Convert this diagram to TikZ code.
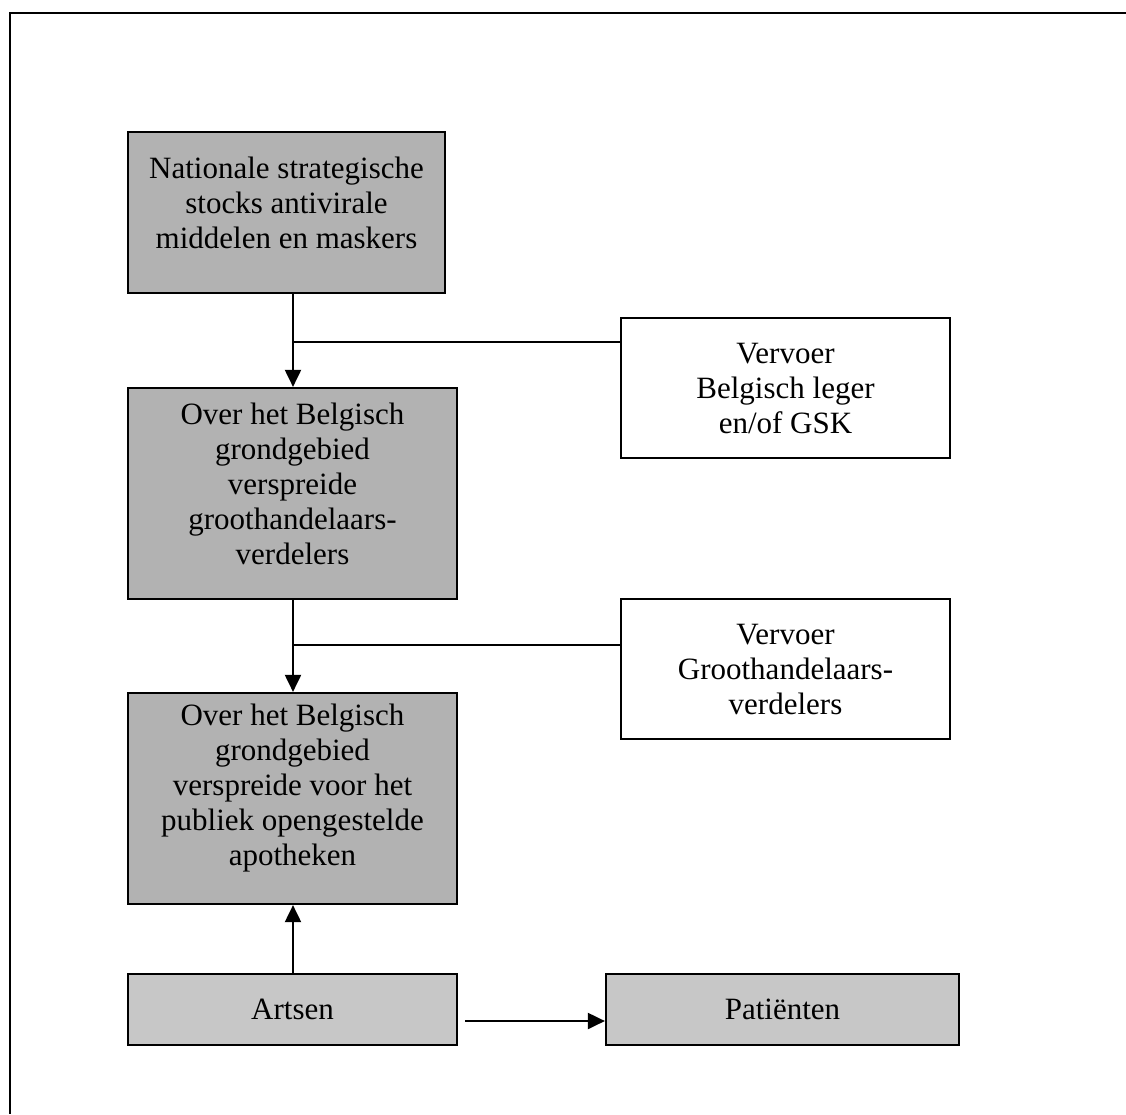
\documentclass[tikz,border=0pt]{standalone}
\usepackage{fontspec}
\setmainfont{Liberation Serif}
\usetikzlibrary{arrows.meta}
\tikzset{
  shadedbox/.style={draw=black, line width=2.2pt, fill=black!30, inner sep=0pt},
  lightbox/.style={draw=black, line width=2.2pt, fill=black!22, inner sep=0pt, font=\fontsize{31}{35}\selectfont},
  whitebox/.style={draw=black, line width=2.2pt, fill=white, inner sep=0pt, align=center, font=\fontsize{31}{35}\selectfont},
  boxtext/.style={align=center, inner sep=0pt, font=\fontsize{31}{35}\selectfont},
  conn/.style={line width=2pt},
  arr/.style={line width=2pt, -{Triangle[length=17pt,width=16pt]}},
  frameline/.style={line width=2.4pt}
}
\begin{document}
\begin{tikzpicture}[x=1pt,y=-1pt]
\useasboundingbox (0,0) rectangle (1126,1114);
% outer frame (top and left only)
\draw[frameline] (1126,13) -- (10,13) -- (10,1114);

% left column boxes
\node[shadedbox, minimum width=317pt, minimum height=161pt] (b1) at (286.5,212.5) {};
\node[boxtext] (b1t) at ([yshift=10pt]b1.center) {Nationale strategische\\stocks antivirale\\middelen en maskers};

\node[shadedbox, minimum width=329pt, minimum height=211pt] (b2) at (292.5,493.5) {};
\node[boxtext] (b2t) at ([yshift=10pt]b2.center) {Over het Belgisch\\grondgebied\\verspreide\\groothandelaars-\\verdelers};

\node[shadedbox, minimum width=329pt, minimum height=211pt] (b3) at (292.5,798.5) {};
\node[boxtext] (b3t) at ([yshift=10pt]b3.center) {Over het Belgisch\\grondgebied\\verspreide voor het\\publiek opengestelde\\apotheken};

\node[lightbox, minimum width=329pt, minimum height=71pt] (art) at (292.5,1009.5) {Artsen};
\node[lightbox, minimum width=353pt, minimum height=71pt] (pat) at (782.5,1009.5) {Patiënten};

% right column boxes
\node[whitebox, minimum width=329pt, minimum height=140pt] (r1) at (785.5,388) {Vervoer\\Belgisch leger\\en/of GSK};
\node[whitebox, minimum width=329pt, minimum height=140pt] (r2) at (785.5,669) {Vervoer\\Groothandelaars-\\verdelers};

% connectors
\coordinate (j1) at (293,342);
\coordinate (j2) at (293,645);
\coordinate (a4) at (465,1021);

\draw[arr] (b1.south -| j1) -- (b2.north -| j1);
\draw[conn] (j1) -- (r1.west |- j1);

\draw[arr] (b2.south -| j2) -- (b3.north -| j2);
\draw[conn] (j2) -- (r2.west |- j2);

\draw[arr] (art.north -| j1) -- (b3.south -| j1);
\draw[arr] (a4) -- (pat.west |- a4);
\end{tikzpicture}
\end{document}
